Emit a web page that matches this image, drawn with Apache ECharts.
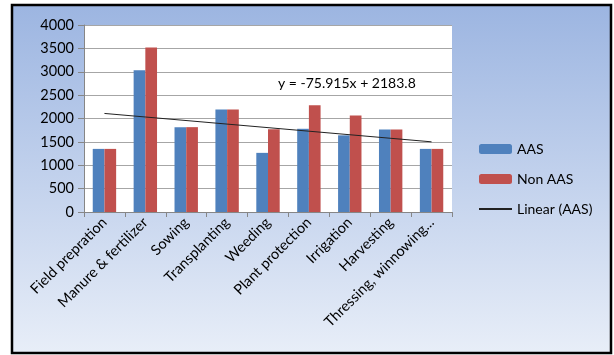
<!DOCTYPE html>
<html>
<head>
<meta charset="utf-8">
<script src="https://cdn.jsdelivr.net/npm/echarts@6/dist/echarts.min.js"></script>
<style>
  html, body { margin: 0; padding: 0; background: #fff; }
  #chart { width: 614px; height: 355px; }
</style>
</head>
<body>
<div id="chart"></div>
<script>
// data
const categories = ['Field prepration', 'Manure & fertilizer', 'Sowing', 'Transplanting', 'Weeding',
  'Plant protection', 'Irrigation', 'Harvesting', 'Thressing, winnowing...']
const aas = [1350, 3030, 1815, 2190, 1265, 1780, 1640, 1765, 1350]
const nonAas = [1350, 3520, 1815, 2190, 1770, 2285, 2065, 1765, 1350]
// linear trend (AAS) at first and last category
const trendStart = 2108
const trendEnd = 1501
const trendLabel = 'y = -75.915x + 2183.8'
const yTicks = { min: 0, max: 4000, step: 500 }

const font = 'Lato, "Liberation Sans", sans-serif'
const chart = echarts.init(document.getElementById('chart'))

chart.setOption({
  animation: false,
  backgroundColor: '#fff',
  textStyle: { fontFamily: font },
  graphic: [
    {
      type: 'rect',
      z: -10,
      silent: true,
      shape: { x: 12, y: 5, width: 599, height: 348 },
      style: {
        fill: new echarts.graphic.LinearGradient(0, 0, 0, 1, [
          { offset: 0, color: '#9cb5e1' },
          { offset: 1, color: '#e8eef8' }
        ]),
        stroke: '#000',
        lineWidth: 2.5
      }
    },
    {
      type: 'rect',
      z: -9,
      silent: true,
      shape: { x: 84, y: 25, width: 368, height: 187 },
      style: { fill: '#fff' }
    },
    {
      type: 'text',
      left: 278,
      top: 76,
      z: 10,
      style: { text: trendLabel, fontSize: 14, fontFamily: font, fill: '#000' }
    }
  ],
  grid: { left: 84, right: 162, top: 25, bottom: 143, containLabel: false },
  legend: {
    orient: 'vertical',
    left: 478,
    top: 142,
    padding: 0,
    itemWidth: 33,
    itemHeight: 10,
    itemGap: 16,
    data: [
      'AAS',
      'Non AAS',
      { name: 'Linear (AAS)', itemStyle: { opacity: 0 } }
    ],
    textStyle: { fontSize: 14, color: '#000', fontFamily: font }
  },
  xAxis: {
    type: 'category',
    data: categories,
    axisLine: { lineStyle: { color: '#868686' } },
    axisTick: { show: true, length: 5, lineStyle: { color: '#868686' } },
    axisLabel: { rotate: 45, fontSize: 14.5, color: '#000', margin: 8, interval: 0 },
    splitLine: { show: false }
  },
  yAxis: {
    type: 'value',
    min: yTicks.min,
    max: yTicks.max,
    interval: yTicks.step,
    axisLine: { show: true, lineStyle: { color: '#868686' } },
    axisTick: { show: true, length: 6, lineStyle: { color: '#868686' } },
    axisLabel: { fontSize: 14.5, color: '#000', margin: 10, formatter: v => String(v) },
    splitLine: { lineStyle: { color: '#a6a6a6' } }
  },
  series: [
    {
      name: 'AAS',
      type: 'bar',
      data: aas,
      barWidth: 11.7,
      barGap: '0%',
      itemStyle: { color: '#4f81bd' }
    },
    {
      name: 'Non AAS',
      type: 'bar',
      data: nonAas,
      barWidth: 11.7,
      itemStyle: { color: '#c0504d' }
    },
    {
      name: 'Linear (AAS)',
      type: 'line',
      data: [[0, trendStart], [categories.length - 1, trendEnd]],
      symbol: 'none',
      showSymbol: false,
      z: 5,
      lineStyle: { color: '#222', width: 1 },
      itemStyle: { color: '#222' }
    }
  ]
})
</script>
</body>
</html>
